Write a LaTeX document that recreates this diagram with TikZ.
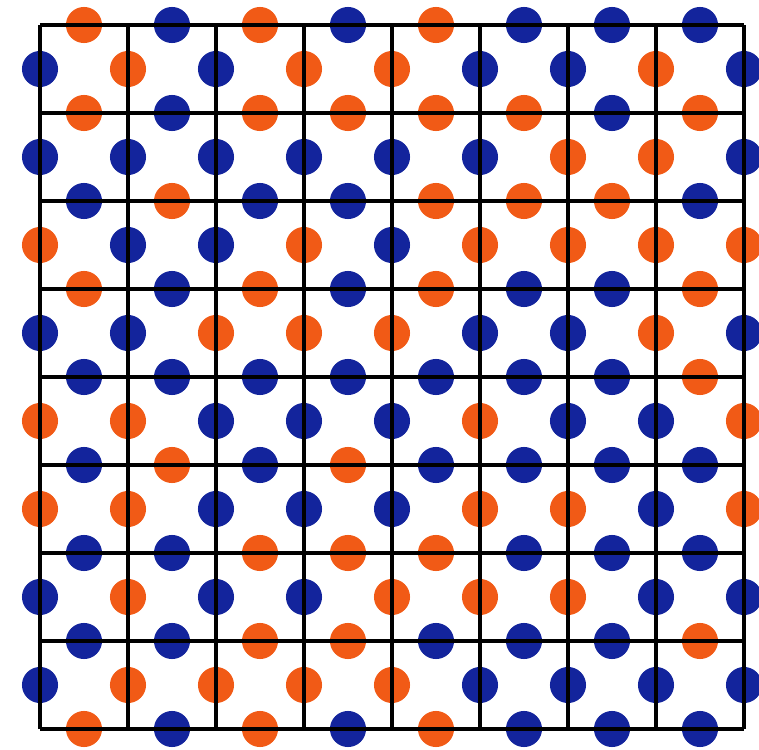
\documentclass[tikz,border=0pt]{standalone}
\usepackage{xcolor}
\usepackage{tikz}
\usetikzlibrary{calc}

\definecolor{spinO}{RGB}{241,90,22}
\definecolor{spinB}{RGB}{19,36,156}

\begin{document}
\begin{tikzpicture}[scale=1,
  spin/.style={circle,inner sep=0pt,minimum size=0.41cm}]
\useasboundingbox (-0.4545,-0.2273) rectangle (8.1705,8.2841);
% spins on horizontal edges, rows from top to bottom
\foreach \row [count=\r from 0] in {
  {O,B,O,B,O,B,B,B},
  {O,B,O,O,O,O,B,O},
  {B,O,B,B,O,O,O,B},
  {O,B,O,B,O,B,B,O},
  {B,B,B,B,B,B,B,O},
  {B,O,B,O,B,B,B,B},
  {B,B,O,O,O,B,B,B},
  {B,B,O,O,B,B,B,O},
  {O,B,O,B,O,B,B,B}}{
  \foreach \s [count=\c from 0] in \row {
    \node[spin,fill=spin\s] (h-\r-\c) at (\c+0.5,8-\r) {};
  }
}
% spins on vertical edges, rows from top to bottom
\foreach \row [count=\r from 0] in {
  {B,O,B,O,O,B,B,O,B},
  {B,B,B,B,B,B,O,O,B},
  {O,B,B,O,B,O,O,O,O},
  {B,B,O,O,O,B,B,O,B},
  {O,O,B,B,B,O,B,B,O},
  {O,O,B,B,B,O,O,B,O},
  {B,O,B,B,O,O,O,B,B},
  {B,O,O,O,O,B,B,B,B}}{
  \foreach \s [count=\c from 0] in \row {
    \node[spin,fill=spin\s] (v-\r-\c) at (\c,7.5-\r) {};
  }
}
% lattice
\draw[line width=1.3pt] (0,0) grid (8,8);
\end{tikzpicture}
\end{document}
